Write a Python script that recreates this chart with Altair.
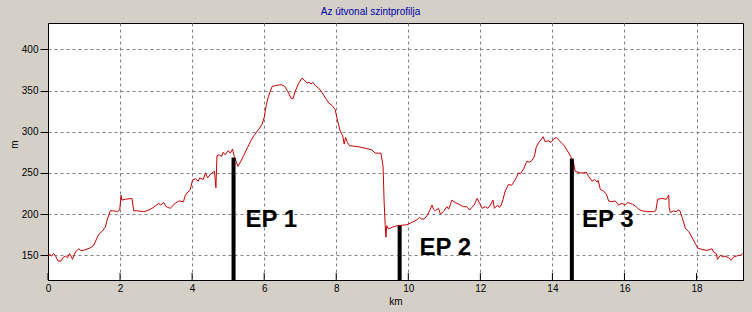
import altair as alt
import pandas as pd

# Elevation profile (km along route, elevation in m)
km = [0.00, 0.05, 0.10, 0.15, 0.20, 0.28, 0.36, 0.41, 0.48, 0.54, 0.60, 0.64, 0.68, 0.76, 0.85, 0.90, 0.99,
      1.17, 1.27, 1.36, 1.40, 1.50, 1.59, 1.65, 1.73, 1.82, 1.93, 1.99, 2.03, 2.05, 2.15, 2.33, 2.38, 2.47,
      2.65, 2.75, 2.89, 2.98, 3.07, 3.13, 3.21, 3.28, 3.39, 3.53, 3.63, 3.76, 3.81, 3.95, 4.01, 4.09, 4.17,
      4.21, 4.31, 4.37, 4.43, 4.50, 4.62, 4.66, 4.69, 4.75, 4.82, 4.86, 4.92, 5.00, 5.06, 5.12, 5.17, 5.27,
      5.34, 5.43, 5.54, 5.63, 5.71, 5.85, 5.94, 6.00, 6.06, 6.12, 6.22, 6.31, 6.43, 6.49, 6.57, 6.68, 6.74,
      6.80, 6.86, 6.96, 7.05, 7.11, 7.19, 7.25, 7.30, 7.35, 7.42, 7.51, 7.60, 7.70, 7.79, 7.88, 7.97, 8.04,
      8.11, 8.18, 8.22, 8.26, 8.31, 8.37, 8.58, 8.81, 8.99, 9.08, 9.24, 9.30, 9.33, 9.36, 9.38, 9.40, 9.45,
      9.55, 9.69, 9.96, 10.10, 10.24, 10.31, 10.37, 10.44, 10.52, 10.59, 10.66, 10.70, 10.75, 10.84, 10.89,
      10.98, 11.07, 11.12, 11.21, 11.30, 11.40, 11.53, 11.62, 11.70, 11.76, 11.83, 11.91, 11.98, 12.05,
      12.14, 12.21, 12.28, 12.35, 12.39, 12.48, 12.53, 12.58, 12.63, 12.69, 12.78, 12.87, 12.97, 13.06,
      13.12, 13.20, 13.29, 13.36, 13.43, 13.50, 13.55, 13.62, 13.68, 13.74, 13.80, 13.89, 13.96, 14.03,
      14.11, 14.17, 14.24, 14.33, 14.40, 14.47, 14.52, 14.58, 14.63, 14.77, 14.87, 14.94, 15.00, 15.10,
      15.17, 15.24, 15.27, 15.33, 15.42, 15.50, 15.56, 15.65, 15.74, 15.84, 15.93, 16.02, 16.09, 16.16,
      16.22, 16.30, 16.39, 16.49, 16.62, 16.81, 16.87, 16.92, 17.04, 17.16, 17.23, 17.24, 17.27, 17.36,
      17.43, 17.50, 17.54, 17.60, 17.69, 17.78, 17.87, 17.97, 18.03, 18.15, 18.29, 18.38, 18.43, 18.47,
      18.55, 18.58, 18.66, 18.73, 18.79, 18.89, 18.96, 19.03, 19.11, 19.17, 19.23, 19.28]
elev = [150, 151, 149, 152, 150, 143, 143, 147, 149, 147, 152, 149, 145, 154, 158, 156, 156,
        159, 162, 171, 175, 179, 184, 194, 204, 204, 203, 205, 223, 217, 218, 219, 204, 204,
        203, 204, 207, 210, 213, 211, 214, 209, 207, 213, 216, 215, 223, 230, 241, 243, 240,
        244, 242, 250, 244, 248, 252, 232, 271, 272, 270, 275, 272, 277, 274, 279, 270, 258,
        263, 271, 281, 289, 295, 303, 309, 317, 333, 343, 355, 356, 357, 357, 355, 347, 341,
        340, 349, 359, 365, 363, 359, 360, 358, 360, 356, 353, 348, 341, 335, 332, 327, 313,
        301, 295, 285, 293, 287, 283, 282, 280, 278, 274, 274, 258, 214, 186, 172, 186, 182,
        184, 186, 187, 190, 193, 196, 194, 194, 198, 204, 211, 206, 204, 207, 200,
        203, 209, 206, 217, 214, 212, 209, 209, 205, 208, 211, 219, 213, 207,
        209, 207, 211, 217, 207, 211, 208, 211, 218, 228, 236, 235, 242, 250,
        249, 255, 264, 263, 265, 270, 281, 287, 290, 294, 288, 289, 287, 291,
        293, 290, 287, 283, 278, 273, 269, 264, 252, 250, 250, 251, 246, 240,
        242, 239, 241, 230, 228, 224, 216, 215, 216, 211, 213, 211, 214, 213,
        212, 210, 206, 204, 203, 203, 204, 218, 219, 218, 223, 208, 202, 204,
        203, 205, 204, 196, 183, 179, 172, 164, 159, 157, 156, 157, 158, 154,
        152, 145, 150, 148, 149, 147, 144, 148, 149, 150, 150, 152]

# Checkpoints
ep_names = ["EP 1", "EP 2", "EP 3"]
ep_km = [5.15, 9.76, 14.54]
ep_top = [268.6, 185.8, 267.4]
label_km = [5.48, 10.31, 14.82]
label_elev = [193, 159, 193]

x_ticks = [0, 2, 4, 6, 8, 10, 12, 14, 16, 18]
y_ticks = [150, 200, 250, 300, 350, 400]

W, H = 695, 257
FONT = "Liberation Sans"

xs = alt.Scale(domain=[0, 19.29], nice=False, zero=False)
ys = alt.Scale(domain=[120, 432], nice=False, zero=False)

x_axis = alt.Axis(values=x_ticks, title="km", ticks=False, labelPadding=3, titlePadding=3,
                  labelFlush=False,
                  grid=True, gridDash=[3, 3], gridColor="#808080", gridOpacity=1,
                  domainColor="black", labelColor="black", titleColor="black",
                  labelFont=FONT, titleFont=FONT, labelFontSize=10, titleFontSize=10,
                  titleFontWeight="normal", format="d")
y_axis = alt.Axis(values=y_ticks, title="m", tickSize=8, tickColor="black", labelPadding=2,
                  labelFlush=False,
                  grid=True, gridDash=[3, 3], gridColor="#808080", gridOpacity=1,
                  domainColor="black", labelColor="black", titleColor="black",
                  labelFont=FONT, titleFont=FONT, labelFontSize=10, titleFontSize=10,
                  titleFontWeight="normal", titleX=-29, titleY=121, format="d")

profile = pd.DataFrame({"km": km, "m": elev})
eps = pd.DataFrame({"km": ep_km, "m": ep_top, "name": ep_names})
labels = pd.DataFrame({"km": label_km, "m": label_elev, "name": ep_names})
ticks = pd.DataFrame({"km": x_ticks})

line = alt.Chart(profile).mark_line(color="#CC0000", strokeWidth=1, clip=True).encode(
    x=alt.X("km:Q", scale=xs, axis=x_axis),
    y=alt.Y("m:Q", scale=ys, axis=y_axis),
)

inner_ticks = alt.Chart(ticks).mark_rule(color="black", strokeWidth=1).encode(
    x=alt.X("km:Q", scale=xs, axis=x_axis),
    y=alt.value(H - 7),
    y2=alt.value(H),
)

bars = alt.Chart(eps).mark_rule(color="black", strokeWidth=4).encode(
    x=alt.X("km:Q", scale=xs, axis=x_axis),
    y=alt.Y("m:Q", scale=ys, axis=y_axis),
    y2=alt.value(H),
)

texts = alt.Chart(labels).mark_text(align="left", baseline="middle", font=FONT, fontSize=24,
                                    fontWeight="bold", color="black").encode(
    x=alt.X("km:Q", scale=xs, axis=x_axis),
    y=alt.Y("m:Q", scale=ys, axis=y_axis),
    text="name:N",
)

chart = alt.layer(line, inner_ticks, bars, texts).properties(
    width=W,
    height=H,
    title=alt.TitleParams("Az útvonal szintprofilja", color="#0000A8", font=FONT, fontSize=10,
                          fontWeight="normal", anchor="middle", dx=-25, offset=6),
    autosize=alt.AutoSizeParams(type="none"),
    padding={"left": 48, "top": 23, "right": 9, "bottom": 32},
    background="#D4D0C8",
).configure_view(fill="white", stroke="black", strokeWidth=1)

chart.save("out.html", embed_options={"renderer": "svg", "actions": False})
